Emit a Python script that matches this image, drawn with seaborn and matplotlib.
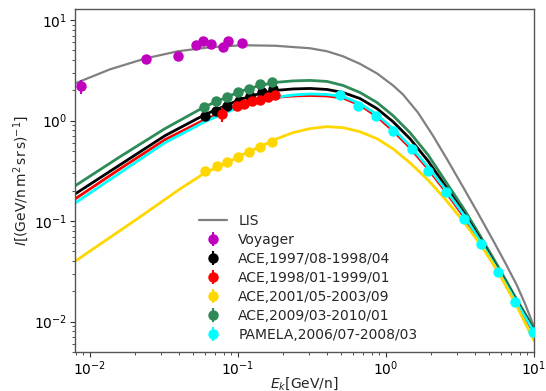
import numpy as np
import pandas as pd
import matplotlib
matplotlib.use("Agg")
import matplotlib.pyplot as plt
import seaborn as sns

# ---------------- data ----------------
# LIS curve
lis_E = [0.00792, 0.01365, 0.02389, 0.03932, 0.06467, 0.1064, 0.1778, 0.3065, 0.3994, 0.5124,
         0.6672, 0.8694, 1.115, 1.303, 1.645, 2.078, 2.624, 3.314, 4.183, 5.284, 6.370, 7.676, 8.696, 10.0]
lis_I = [2.344, 3.236, 4.169, 4.898, 5.370, 5.623, 5.559, 5.248, 4.898, 4.365,
         3.673, 2.951, 2.239, 1.820, 1.202, 0.708, 0.398, 0.219, 0.120, 0.0646, 0.0389, 0.0229, 0.0151, 0.00891]

# energy grid for the modulated model curves
mod_E = [0.00792, 0.01595, 0.03212, 0.05984, 0.1031, 0.1408, 0.1778, 0.2352, 0.3065, 0.3994, 0.5124,
         0.6672, 0.8694, 1.115, 1.453, 1.922, 2.543, 3.365, 4.385, 5.712, 7.441, 10.0]
mod_green = [0.224, 0.437, 0.832, 1.380, 1.950, 2.239, 2.399, 2.483, 2.512, 2.455, 2.239,
             1.905, 1.514, 1.122, 0.759, 0.457, 0.245, 0.132, 0.0692, 0.0355, 0.0178, 0.00851]
mod_black = [0.186, 0.363, 0.708, 1.148, 1.622, 1.862, 1.995, 2.065, 2.089, 2.042, 1.905,
             1.660, 1.318, 0.977, 0.661, 0.398, 0.219, 0.120, 0.0646, 0.0331, 0.0170, 0.00813]
mod_red = [0.166, 0.331, 0.646, 1.023, 1.413, 1.622, 1.698, 1.758, 1.778, 1.758, 1.679,
           1.429, 1.096, 0.794, 0.537, 0.331, 0.195, 0.110, 0.0603, 0.0316, 0.0162, 0.00776]
mod_cyan = [0.151, 0.302, 0.603, 0.977, 1.380, 1.585, 1.698, 1.799, 1.841, 1.820, 1.738,
            1.479, 1.148, 0.832, 0.562, 0.347, 0.204, 0.115, 0.0617, 0.0324, 0.0166, 0.00794]

yel_E = [0.00792, 0.02177, 0.04056, 0.05984, 0.08426, 0.1031, 0.1408, 0.1834, 0.2352, 0.3065, 0.3994,
         0.5124, 0.6672, 0.8694, 1.115, 1.453, 1.922, 2.543, 3.365, 4.385, 5.712, 7.441, 10.0]
yel_I = [0.0398, 0.110, 0.209, 0.302, 0.380, 0.447, 0.550, 0.661, 0.759, 0.832, 0.871,
         0.851, 0.776, 0.661, 0.525, 0.380, 0.257, 0.162, 0.0977, 0.0575, 0.0316, 0.0155, 0.00646]

# measurements
voy_E = [0.0087, 0.0239, 0.0394, 0.052, 0.058, 0.0658, 0.0793, 0.0855, 0.106]
voy_I = [2.19, 4.07, 4.37, 5.6, 6.17, 5.75, 5.37, 6.17, 5.9]
voy_err = [0.35, 0.25, 0.25, 0.3, 0.3, 0.3, 0.3, 0.3, 0.3]

ace97_E = [0.0598, 0.071, 0.0843, 0.1016, 0.1205, 0.145, 0.172]
ace97_I = [1.12, 1.26, 1.41, 1.58, 1.74, 1.91, 2.04]
ace97_err = [0.05, 0.05, 0.05, 0.05, 0.05, 0.05, 0.05]

ace98_E = [0.078, 0.0985, 0.110, 0.1245, 0.141, 0.160, 0.178]
ace98_I = [1.17, 1.41, 1.48, 1.55, 1.62, 1.70, 1.78]
ace98_err = [0.2, 0.12, 0.06, 0.06, 0.06, 0.06, 0.06]

ace01_E = [0.0598, 0.0724, 0.0843, 0.100, 0.119, 0.141, 0.170]
ace01_I = [0.316, 0.355, 0.389, 0.437, 0.49, 0.55, 0.617]
ace01_err = [0.015, 0.015, 0.015, 0.015, 0.02, 0.02, 0.02]

ace09_E = [0.0589, 0.0710, 0.0843, 0.100, 0.119, 0.141, 0.170]
ace09_I = [1.38, 1.55, 1.70, 1.91, 2.04, 2.29, 2.40]
ace09_err = [0.06, 0.06, 0.06, 0.06, 0.06, 0.06, 0.06]

pam_E = [0.489, 0.647, 0.855, 1.11, 1.50, 1.92, 2.54, 3.37, 4.39, 5.71, 7.45, 9.84]
pam_I = [1.78, 1.41, 1.12, 0.794, 0.525, 0.316, 0.195, 0.105, 0.0589, 0.0309, 0.0158, 0.0079]
pam_err = [0.04, 0.03, 0.02, 0.015, 0.01, 0.006, 0.004, 0.002, 0.001, 0.0006, 0.0003, 0.00015]

labels = ["LIS", "Voyager", "ACE,1997/08-1998/04", "ACE,1998/01-1999/01",
          "ACE,2001/05-2003/09", "ACE,2009/03-2010/01", "PAMELA,2006/07-2008/03"]

# ---------------- style ----------------
sns.set_style("ticks")
plt.rcParams['font.family'] = ['DejaVu Sans']
plt.rcParams['font.size'] = 10

C_GRAY = "#808080"
C_MAG = "#bf00bf"
C_BLACK = "#000000"
C_RED = "#ff0000"
C_YEL = "#ffd700"
C_GREEN = "#2e8b57"
C_CYAN = "#00ffff"

fig = plt.figure(figsize=(5.46, 3.91), dpi=100)
ax = fig.add_axes([0.137, 0.100, 0.841, 0.877])

# model curves
sns.lineplot(x=lis_E, y=lis_I, ax=ax, color=C_GRAY, lw=1.6, label=labels[0], sort=False)
sns.lineplot(x=mod_E, y=mod_green, ax=ax, color=C_GREEN, lw=2.0, legend=False, sort=False)
sns.lineplot(x=mod_E, y=mod_black, ax=ax, color=C_BLACK, lw=2.0, legend=False, sort=False)
sns.lineplot(x=mod_E, y=mod_red, ax=ax, color=C_RED, lw=2.0, legend=False, sort=False)
sns.lineplot(x=mod_E, y=mod_cyan, ax=ax, color=C_CYAN, lw=2.0, legend=False, sort=False)
sns.lineplot(x=yel_E, y=yel_I, ax=ax, color=C_YEL, lw=2.0, legend=False, sort=False)

# measurements
sets = [
    (voy_E, voy_I, voy_err, C_MAG, labels[1]),
    (ace97_E, ace97_I, ace97_err, C_BLACK, labels[2]),
    (ace98_E, ace98_I, ace98_err, C_RED, labels[3]),
    (ace01_E, ace01_I, ace01_err, C_YEL, labels[4]),
    (ace09_E, ace09_I, ace09_err, C_GREEN, labels[5]),
    (pam_E, pam_I, pam_err, C_CYAN, labels[6]),
]
for E, I, err, c, lab in sets:
    ax.errorbar(E, I, yerr=err, fmt='o', color=c, ms=6.5, elinewidth=1.5,
                capsize=0, label=lab, zorder=3)

ax.set_xscale('log')
ax.set_yscale('log')
ax.set_xlim(0.0079, 10)
ax.set_ylim(0.005, 12.9)

ax.set_xlabel(r"$E_k$[GeV/n]", fontsize=10, labelpad=-2)
ax.set_ylabel(r"$I[(\mathrm{GeV/n\,m^2\,sr\,s})^{-1}]$", fontsize=10, labelpad=2)

for s in ax.spines.values():
    s.set_color("#555555")
    s.set_linewidth(1.0)
ax.tick_params(which='both', direction='out', colors="#333333", labelcolor='black')
ax.tick_params(which='major', length=3.5, labelsize=10, pad=2)
ax.tick_params(which='minor', length=2)

ax.legend(loc='lower left', bbox_to_anchor=(0.25, 0.0), frameon=False,
          fontsize=10, handlelength=2.0, handletextpad=0.8, labelspacing=0.36,
          borderaxespad=0.3)

fig.savefig("out.png", dpi=100)
